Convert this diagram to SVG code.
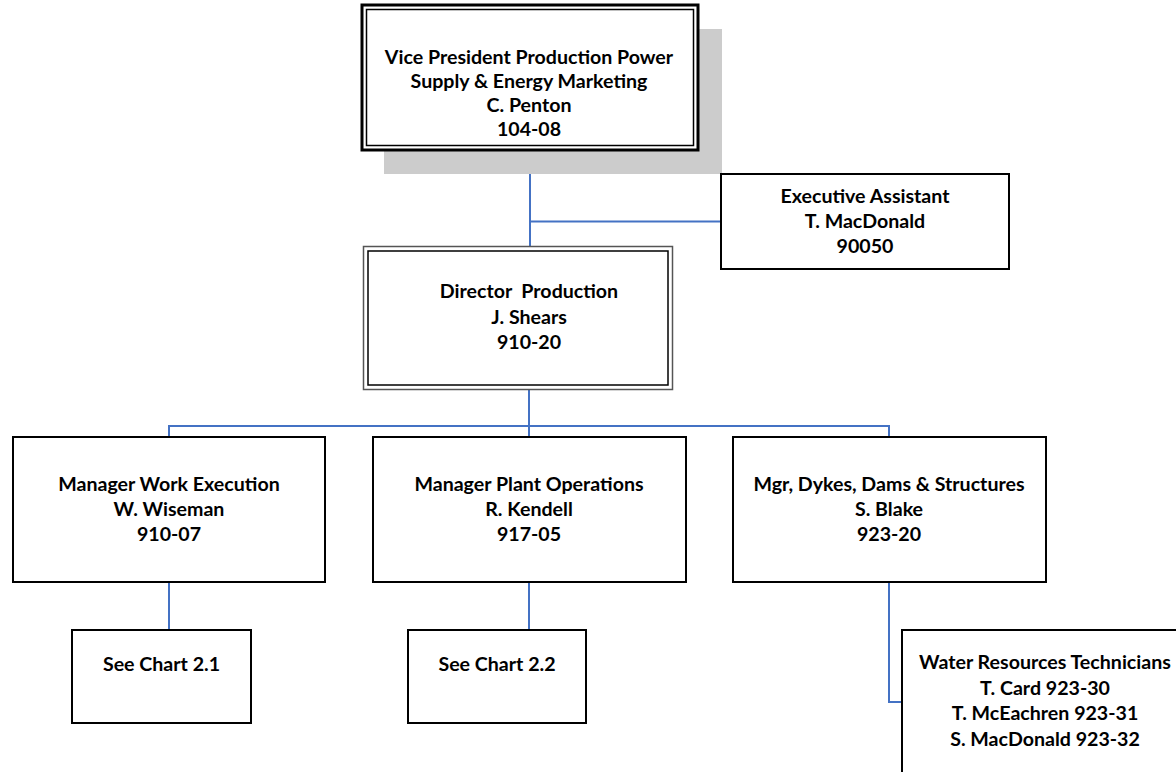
<svg xmlns="http://www.w3.org/2000/svg" width="1176" height="772" viewBox="0 0 1176 772">
<style>
text{font-family:Lato,"Open Sans","Liberation Sans",sans-serif;font-weight:bold;font-size:19.6px;fill:#000;text-anchor:middle}
.box{fill:#fff;stroke:#000;stroke-width:2}
.conn{fill:none;stroke:#4472C4;stroke-width:2}
</style>
<rect width="1176" height="772" fill="#fff"/>
<g id="connectors">
<path class="conn" d="M530 150V246"/>
<path class="conn" d="M530 221.5H721"/>
<path class="conn" d="M529 390V426M169 437V426H889V437M529 426V437"/>
<path class="conn" d="M169 582V630M529 582V630"/>
<path class="conn" d="M889 582V702H902"/>
</g>
<g id="vp">
<rect x="384" y="29" width="338" height="145" fill="#cccccc"/>
<rect x="362" y="5" width="336" height="145" fill="#fff" stroke="#000" stroke-width="3"/>
<rect x="366.5" y="9.5" width="327" height="136" fill="none" stroke="#000" stroke-width="1.5"/>
<text x="529" y="64">Vice President Production Power</text>
<text x="529" y="88">Supply &amp; Energy Marketing</text>
<text x="529" y="112">C. Penton</text>
<text x="529" y="136">104-08</text>
</g>
<g id="exec">
<rect class="box" x="721" y="174" width="288" height="95"/>
<text x="865" y="203">Executive Assistant</text>
<text x="865" y="228">T. MacDonald</text>
<text x="865" y="253">90050</text>
</g>
<g id="director">
<rect x="363.5" y="246.5" width="309" height="143" fill="#fff" stroke="#555" stroke-width="1.5"/>
<rect x="368" y="251" width="300" height="134" fill="none" stroke="#000" stroke-width="1.5"/>
<text x="529" y="298" xml:space="preserve">Director  Production</text>
<text x="529" y="324">J. Shears</text>
<text x="529" y="349">910-20</text>
</g>
<g id="mgr-work">
<rect class="box" x="13" y="437" width="312" height="145"/>
<text x="169" y="491">Manager Work Execution</text>
<text x="169" y="516">W. Wiseman</text>
<text x="169" y="541">910-07</text>
</g>
<g id="mgr-plant">
<rect class="box" x="373" y="437" width="313" height="145"/>
<text x="529" y="491">Manager Plant Operations</text>
<text x="529" y="516">R. Kendell</text>
<text x="529" y="541">917-05</text>
</g>
<g id="mgr-dykes">
<rect class="box" x="733" y="437" width="313" height="145"/>
<text x="889" y="491">Mgr, Dykes, Dams &amp; Structures</text>
<text x="889" y="516">S. Blake</text>
<text x="889" y="541">923-20</text>
</g>
<g id="chart21">
<rect class="box" x="72" y="630" width="179" height="93"/>
<text x="161.5" y="671">See Chart 2.1</text>
</g>
<g id="chart22">
<rect class="box" x="408" y="630" width="178" height="93"/>
<text x="497" y="671">See Chart 2.2</text>
</g>
<g id="water">
<rect class="box" x="902" y="630" width="290" height="160"/>
<text x="1045" y="669">Water Resources Technicians</text>
<text x="1045" y="695">T. Card 923-30</text>
<text x="1045" y="720">T. McEachren 923-31</text>
<text x="1045" y="746">S. MacDonald 923-32</text>
</g>
</svg>
